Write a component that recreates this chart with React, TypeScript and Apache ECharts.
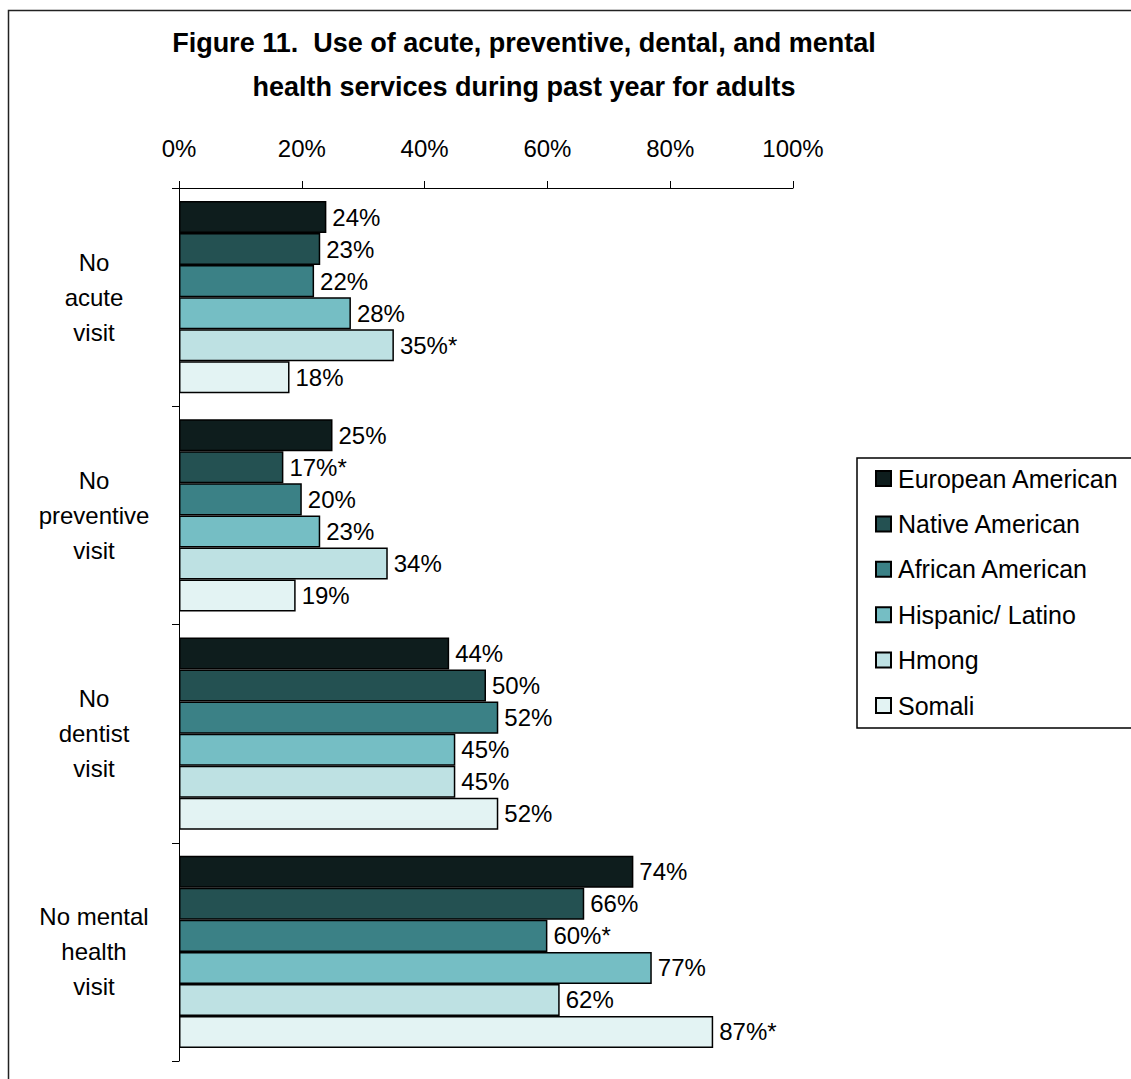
import React, { useEffect, useRef } from "react";
import * as echarts from "echarts";

const categories = ["No\nacute\nvisit", "No\npreventive\nvisit", "No\ndentist\nvisit", "No mental\nhealth\nvisit"];
const seriesNames = ["European American", "Native American", "African American", "Hispanic/ Latino", "Hmong", "Somali"];
const colors = ["#0e1d1d", "#245152", "#3b8186", "#75bec4", "#bee1e3", "#e3f3f3"];
const europeanAmerican = [24, 25, 44, 74];
const nativeAmerican = [23, 17, 50, 66];
const africanAmerican = [22, 20, 52, 60];
const hispanicLatino = [28, 23, 45, 77];
const hmong = [35, 34, 45, 62];
const somali = [18, 19, 52, 87];
const seriesValues = [europeanAmerican, nativeAmerican, africanAmerican, hispanicLatino, hmong, somali];
// significance markers per series per category
const stars = [
  ["", "", "", ""],
  ["", "*", "", ""],
  ["", "", "", "*"],
  ["", "", "", ""],
  ["*", "", "", ""],
  ["", "", "", "*"],
];
const xTicks = [0, 20, 40, 60, 80, 100];

const FONT = "'Liberation Sans', Arial, sans-serif";

export default function App() {
  const ref = useRef<HTMLDivElement>(null);
  useEffect(() => {
    const chart = echarts.init(ref.current!, undefined, { renderer: "svg" });
    chart.setOption({
      animation: false,
      backgroundColor: "#ffffff",
      textStyle: { fontFamily: FONT },
      title: {
        text: "Figure 11.  Use of acute, preventive, dental, and mental\nhealth services during past year for adults",
        left: 519,
        top: 16,
        textAlign: "center",
        textStyle: { fontFamily: FONT, fontSize: 27, fontWeight: "bold", color: "#000", lineHeight: 44 },
      },
      graphic: [
        {
          type: "rect",
          shape: { x: 8.5, y: 10.5, width: 1200, height: 1200 },
          style: { fill: "none", stroke: "#222", lineWidth: 1.5 },
          silent: true,
        },
      ],
      legend: {
        orient: "vertical",
        left: 857,
        top: 458,
        padding: [8, 60, 10, 18],
        backgroundColor: "#fff",
        borderColor: "#000",
        borderWidth: 1.5,
        borderRadius: 0,
        itemWidth: 15,
        itemHeight: 15,
        itemGap: 20.4,
        icon: "rect",
        textStyle: { fontFamily: FONT, fontSize: 25, color: "#000", lineHeight: 25, padding: [0, 0, 0, 2] },
        data: seriesNames,
      },
      grid: { left: 179, right: 338, top: 188, bottom: 18, containLabel: false },
      xAxis: {
        type: "value",
        position: "top",
        min: 0,
        max: 100,
        interval: 20,
        axisLine: { show: true, lineStyle: { color: "#000", width: 1 } },
        axisTick: { show: true, length: 7, lineStyle: { color: "#000" } },
        splitLine: { show: false },
        axisLabel: {
          fontFamily: FONT,
          fontSize: 24,
          color: "#000",
          margin: 28,
          formatter: (v: number) => (xTicks.includes(v) ? v + "%" : ""),
        },
      },
      yAxis: {
        type: "category",
        inverse: true,
        data: categories,
        axisLine: { show: true, lineStyle: { color: "#000", width: 1 } },
        axisTick: { show: true, length: 7, lineStyle: { color: "#000" } },
        axisLabel: {
          fontFamily: FONT,
          fontSize: 24,
          color: "#000",
          lineHeight: 35,
          align: "center",
          margin: 85,
        },
      },
      series: seriesNames.map((name, si) => ({
        name,
        type: "bar",
        data: seriesValues[si],
        barGap: "0%",
        barCategoryGap: "12%",
        itemStyle: { color: colors[si], borderColor: "#000", borderWidth: 1.5 },
        label: {
          show: true,
          position: "right",
          distance: 6,
          fontFamily: FONT,
          fontSize: 24,
          color: "#000",
          formatter: (p: any) => p.value + "%" + stars[si][p.dataIndex],
        },
      })),
    });
    return () => chart.dispose();
  }, []);
  return (
    <div
      ref={ref}
      style={{ position: "absolute", left: 0, top: 0, width: 1131, height: 1079 }}
    />
  );
}
